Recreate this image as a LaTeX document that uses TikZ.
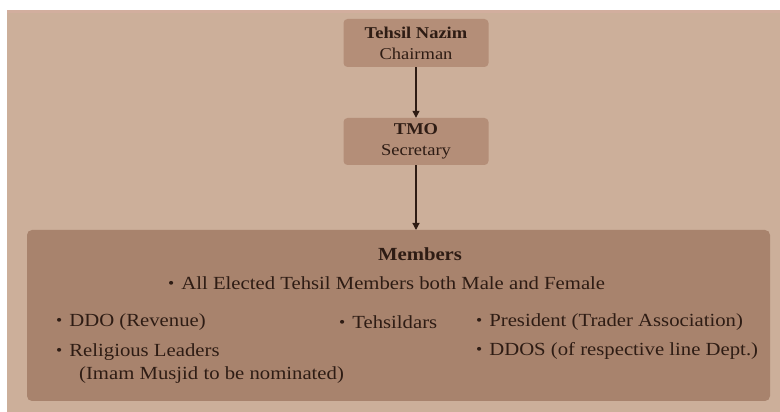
\documentclass[tikz,border=0pt]{standalone}
\usepackage{fontspec}
\setmainfont{Liberation Serif}[FakeStretch=1.12]
\usetikzlibrary{arrows.meta}
\definecolor{bgout}{HTML}{CCAF9A}
\definecolor{bgband}{HTML}{D2AE9E}
\definecolor{smallbox}{HTML}{B48E78}
\definecolor{bigbox}{HTML}{A8836D}
\definecolor{ink}{HTML}{2E1C14}
\tikzset{
  x=1pt,y=1pt,
  rolebox/.style={fill=smallbox,rounded corners=4pt,minimum width=145pt,minimum height=48pt,align=center,text=ink,font=\fontsize{16.5}{21}\selectfont,inner sep=0pt},
  item/.style={anchor=west,text=ink,font=\fontsize{18.5}{22}\selectfont,inner sep=0pt,align=left},
  conn/.style={draw=ink,line width=1.2pt,-{Triangle[length=7pt,width=7pt]}}
}
\newcommand{\bul}{\raisebox{1pt}{\scalebox{0.85}{\textbullet}}\hspace{7pt}}
\begin{document}
\begin{tikzpicture}
\useasboundingbox (0,0) rectangle (780,412);
\fill[white] (0,0) rectangle (780,412);
\fill[bgout] (7,0) rectangle (780,402);
\fill[bgband] (7,402) rectangle (780,399);
\node[rolebox] (nazim) at (416,369) {\textbf{Tehsil Nazim}\\Chairman};
\node[rolebox,minimum height=47pt] (tmo) at (416,270.5) {\textbf{TMO}\\Secretary};
\path[fill=bigbox,rounded corners=5pt] (27,11) rectangle (770,182);
\coordinate (memtop) at (416,182);
\node[text=ink,font=\fontsize{18.5}{22}\selectfont\bfseries,inner sep=0pt] (memtitle) at (420,158) {Members};
\node[item] (all) at (168,129) {\bul All Elected Tehsil Members both Male and Female};
\node[item] (ddo) at (56,90) {\bul DDO (Revenue)};
\node[item] (teh) at (339,90) {\bul Tehsildars};
\node[item] (pres) at (476,90) {\bul President (Trader Association)};
\node[item] (rel) at (56,60) {\bul Religious Leaders};
\node[item] (imam) at (79,37) {(Imam Musjid to be nominated)};
\node[item] (ddos) at (476,61) {\bul DDOS (of respective line Dept.)};
\draw[conn] (nazim.south) -- (tmo.north);
\draw[conn] (tmo.south) -- (memtop);
\end{tikzpicture}
\end{document}
